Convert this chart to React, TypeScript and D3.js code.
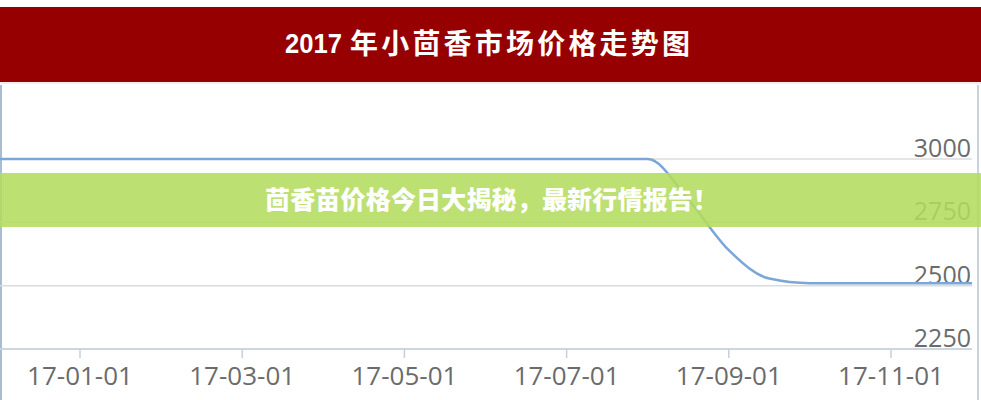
import React from 'react';
import * as d3 from 'd3';

// month index 0 = 2017-01-01, -1 = 2016-12-01, 7.5 = mid August
const months = [-1, 0, 1, 2, 3, 4, 5, 6, 7, 7.5, 8, 8.5, 9, 10, 11];
const prices = [3000, 3000, 3000, 3000, 3000, 3000, 3000, 3000, 3000, 2840, 2640, 2528, 2510, 2510, 2510];
const yTicks = [2250, 2500, 2750, 3000];
const xTickMonths = [0, 2, 4, 6, 8, 10];
const xTickLabels = ['17-01-01', '17-03-01', '17-05-01', '17-07-01', '17-09-01', '17-11-01'];
const titleYear = '2017';
const titleText = '年小茴香市场价格走势图';
const banner = '茴香苗价格今日大揭秘，最新行情报告！';

const W = 981;
const H = 400;

const App: React.FC = () => {
  const x = d3.scaleLinear().domain([0, 10]).range([80, 891]);
  const y = d3.scaleLinear().domain([2250, 3000]).range([349, 159]);
  const plotRight = 972;

  const line = d3
    .line<number>()
    .x((_, i) => x(months[i]))
    .y(d => y(d))
    .curve(d3.curveMonotoneX);

  const labelFont = '"Open Sans", "Liberation Sans", sans-serif';
  const cjkFont = '"Noto Sans CJK SC", sans-serif';

  return (
    <div style={{ position: 'fixed', left: 0, top: 0 }}>
      <svg width={W} height={H} style={{ display: 'block', background: '#fff' }}>
        {/* header */}
        <rect x={0} y={7} width={W} height={75} fill="#960000" />
        <line x1={0} x2={W} y1={83} y2={83} stroke="#f0d6d6" strokeWidth={1} />
        <text
          x={285}
          y={53}
          fill="#fff"
          fontFamily='"Liberation Sans Narrow", "Liberation Sans", sans-serif'
          fontWeight={700}
          fontSize={28}
          textLength={57}
          lengthAdjust="spacingAndGlyphs"
        >
          {titleYear}
        </text>
        <text
          x={350}
          y={54}
          fill="#fff"
          fontFamily={cjkFont}
          fontWeight={700}
          fontSize={28}
          textLength={340}
          lengthAdjust="spacing"
        >
          {titleText}
        </text>

        {/* frame */}
        <line x1={1} x2={1} y1={85} y2={H} stroke="#a9bcd6" strokeWidth={2} />
        <line x1={978} x2={978} y1={85} y2={H} stroke="#c9d2de" strokeWidth={2} />

        {/* grid + y labels */}
        {yTicks.map(t => (
          <g key={t}>
            <line x1={0} x2={plotRight} y1={y(t)} y2={y(t)} stroke="#dcdcdc" strokeWidth={1.5} />
            <text
              x={971}
              y={y(t) - 2}
              textAnchor="end"
              fill="#6b6b6b"
              fontFamily={labelFont}
              fontSize={25}
            >
              {t}
            </text>
          </g>
        ))}

        {/* x axis */}
        <line x1={0} x2={plotRight} y1={349} y2={349} stroke="#c5cfdc" strokeWidth={1.5} />
        {xTickMonths.map((m, i) => (
          <g key={m} transform={`translate(${x(m)},0)`}>
            <line y1={349} y2={358} stroke="#c5cfdc" strokeWidth={1.5} />
            <text
              y={385}
              textAnchor="middle"
              fill="#6b6b6b"
              fontFamily={labelFont}
              fontSize={26}
            >
              {xTickLabels[i]}
            </text>
          </g>
        ))}

        {/* price line */}
        <path d={line(prices) || ''} fill="none" stroke="#7ba6d8" strokeWidth={2.5} />

        {/* banner */}
        <rect x={0} y={173} width={W} height={54} fill="#b3db5d" fillOpacity={0.87} />
        <text
          x={265}
          y={209}
          fill="#fff"
          fontFamily={cjkFont}
          fontWeight={900}
          fontSize={25}
          textLength={453}
          lengthAdjust="spacing"
        >
          {banner}
        </text>
      </svg>
    </div>
  );
};

export default App;
